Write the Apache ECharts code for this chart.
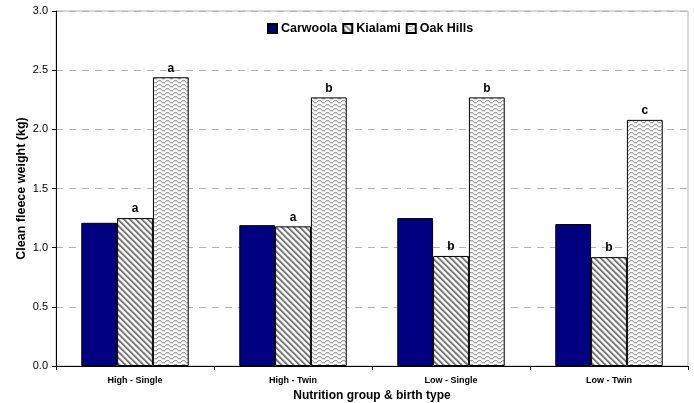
<!DOCTYPE html>
<html>
<head>
<meta charset="utf-8">
<script src="https://cdn.jsdelivr.net/npm/echarts@6/dist/echarts.min.js"></script>
<style>
  html, body { margin: 0; padding: 0; background: #fff; }
  #chart { width: 694px; height: 403px; }
</style>
</head>
<body>
<div id="chart"></div>
<script>
// Clean fleece weight by nutrition group and birth type, per flock
var categories = ['High - Single', 'High - Twin', 'Low - Single', 'Low - Twin'];
var seriesNames = ['Carwoola', 'Kialami', 'Oak Hills'];
var carwoola = [1.21, 1.19, 1.25, 1.20];
var kialami = [1.25, 1.18, 0.93, 0.92];
var oakHills = [2.44, 2.27, 2.27, 2.08];
// significance letters shown above bars ('' = none)
var carwoolaLetters = ['', '', '', ''];
var kialamiLetters = ['a', 'a', 'b', 'b'];
var oakHillsLetters = ['a', 'b', 'b', 'c'];
var yTicks = { min: 0, max: 3, interval: 0.5 };

var FONT = 'Arial, "Liberation Sans", sans-serif';

// Diagonal "\" hatch fill
function stripeTile() {
  var n = 6, c = document.createElement('canvas');
  c.width = n; c.height = n;
  var ctx = c.getContext('2d');
  var img = ctx.createImageData(n, n);
  var shade = [115, 130, 190, 255, 255, 215];
  for (var y = 0; y < n; y++) {
    for (var x = 0; x < n; x++) {
      var d = ((x - y) % n + n) % n;
      var v = shade[d];
      var i = (y * n + x) * 4;
      img.data[i] = img.data[i + 1] = img.data[i + 2] = v;
      img.data[i + 3] = 255;
    }
  }
  ctx.putImageData(img, 0, 0);
  return c;
}

// Light wavy fill
function waveTile() {
  var w = 8, h = 4, c = document.createElement('canvas');
  c.width = w; c.height = h;
  var ctx = c.getContext('2d');
  var img = ctx.createImageData(w, h);
  var off = [0, 1, 2, 2, 2, 1, 0, 0];
  for (var y = 0; y < h; y++) {
    for (var x = 0; x < w; x++) {
      var v = 252;
      if (y === off[x]) v = 165;
      else if (y === (off[x] + 1) % h) v = 222;
      var i = (y * w + x) * 4;
      img.data[i] = img.data[i + 1] = img.data[i + 2] = v;
      img.data[i + 3] = 255;
    }
  }
  ctx.putImageData(img, 0, 0);
  return c;
}

var fills = [
  '#000080',
  { image: stripeTile(), repeat: 'repeat' },
  { image: waveTile(), repeat: 'repeat' }
];
var values = [carwoola, kialami, oakHills];
var letters = [carwoolaLetters, kialamiLetters, oakHillsLetters];

var chart = echarts.init(document.getElementById('chart'), null, { renderer: 'canvas' });

var series = seriesNames.map(function (name, s) {
  return {
    name: name,
    type: 'bar',
    data: values[s],
    barGap: '0%',
    barCategoryGap: '32%',
    itemStyle: { color: fills[s], borderColor: '#000', borderWidth: 1 },
    label: {
      show: true,
      position: 'top',
      distance: 3,
      color: '#000',
      fontFamily: FONT,
      fontWeight: 'bold',
      fontSize: 12,
      formatter: function (p) { return letters[s][p.dataIndex]; }
    },
    emphasis: { disabled: true },
    animation: false
  };
});

chart.setOption({
  animation: false,
  grid: {
    left: 56, right: 6, top: 11, bottom: 37,
    outerBoundsMode: 'none',
    containLabel: false,
    show: true, borderColor: '#b4b4b4', borderWidth: 1
  },
  legend: {
    left: 262, top: 17,
    itemWidth: 9, itemHeight: 9, itemGap: 5,
    icon: 'rect',
    textStyle: { fontFamily: FONT, fontWeight: 'bold', fontSize: 12.5, color: '#000', padding: [0, 0, 0, -1] },
    data: seriesNames
  },
  xAxis: {
    type: 'category',
    data: categories,
    name: 'Nutrition group & birth type',
    nameLocation: 'middle',
    nameGap: 24,
    nameMoveOverlap: false,
    nameTextStyle: { fontFamily: FONT, fontWeight: 'bold', fontSize: 12, color: '#000' },
    axisLine: { lineStyle: { color: '#000', width: 1 } },
    axisTick: { show: true, length: 4, lineStyle: { color: '#000' } },
    axisLabel: { fontFamily: FONT, fontWeight: 'bold', fontSize: 9, color: '#000', margin: 10 },
    splitLine: { show: false }
  },
  yAxis: {
    type: 'value',
    min: yTicks.min, max: yTicks.max, interval: yTicks.interval,
    name: 'Clean fleece weight (kg)',
    nameLocation: 'middle',
    nameGap: 28,
    nameMoveOverlap: false,
    nameRotate: 90,
    nameTextStyle: { fontFamily: FONT, fontWeight: 'bold', fontSize: 12.5, color: '#000' },
    axisLine: { show: true, lineStyle: { color: '#000', width: 1 } },
    axisTick: { show: true, length: 4, lineStyle: { color: '#000' } },
    axisLabel: {
      fontFamily: FONT, fontSize: 11, color: '#000', margin: 8,
      formatter: function (v) { return v.toFixed(1); }
    },
    splitLine: { show: true, lineStyle: { color: '#b4b4b4', type: [7, 6], width: 1 } }
  },
  series: series
});
</script>
</body>
</html>
